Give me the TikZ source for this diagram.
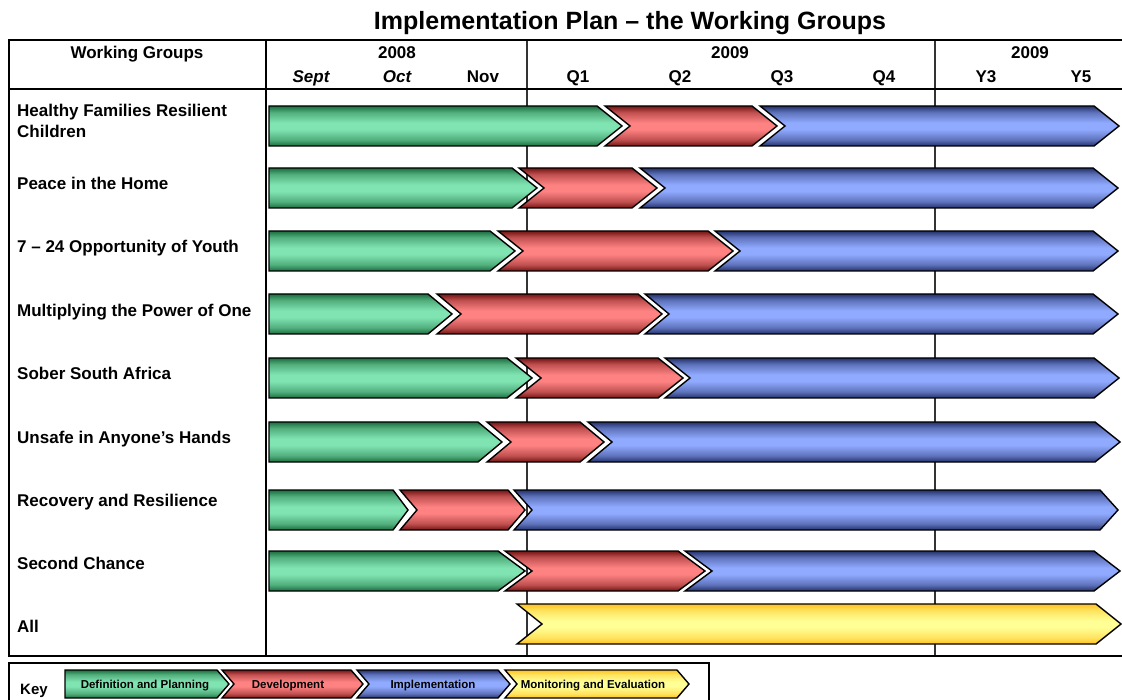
\documentclass[tikz,border=0pt]{standalone}
\usepackage{fontspec}
\setmainfont{Liberation Sans}
\usetikzlibrary{positioning}

\definecolor{dkgreen}{HTML}{1A6E3E}
\definecolor{ltgreen}{HTML}{80E4B2}
\definecolor{dkred}{HTML}{741414}
\definecolor{ltred}{HTML}{FF8282}
\definecolor{dkblue}{HTML}{23306A}
\definecolor{ltblue}{HTML}{90AAFF}
\definecolor{dkyellow}{HTML}{FFC21E}
\definecolor{ltyellow}{HTML}{FFFF96}

\pgfdeclareverticalshading{green_shade}{100bp}{color(0bp)=(dkgreen); color(25bp)=(dkgreen); color(33bp)=(dkgreen!45!ltgreen); color(46bp)=(ltgreen); color(54bp)=(ltgreen); color(67bp)=(dkgreen!45!ltgreen); color(75bp)=(dkgreen); color(100bp)=(dkgreen)}
\pgfdeclareverticalshading{red_shade}{100bp}{color(0bp)=(dkred); color(25bp)=(dkred); color(33bp)=(dkred!45!ltred); color(46bp)=(ltred); color(54bp)=(ltred); color(67bp)=(dkred!45!ltred); color(75bp)=(dkred); color(100bp)=(dkred)}
\pgfdeclareverticalshading{blue_shade}{100bp}{color(0bp)=(dkblue); color(25bp)=(dkblue); color(33bp)=(dkblue!45!ltblue); color(46bp)=(ltblue); color(54bp)=(ltblue); color(67bp)=(dkblue!45!ltblue); color(75bp)=(dkblue); color(100bp)=(dkblue)}
\pgfdeclareverticalshading{yellow_shade}{100bp}{color(0bp)=(dkyellow); color(25bp)=(dkyellow); color(33bp)=(dkyellow!45!ltyellow); color(46bp)=(ltyellow); color(54bp)=(ltyellow); color(67bp)=(dkyellow!45!ltyellow); color(75bp)=(dkyellow); color(100bp)=(dkyellow)}

% style, left, shoulder, top, depth, notch, height
\newcommand{\chevron}[7]{%
  \path[#1] (#2,#4) -- (#3,#4) -- (#3+#5,#4+#7/2) -- (#3,#4+#7) -- (#2,#4+#7) -- (#2+#6,#4+#7/2) -- cycle;}

\begin{document}
\begin{tikzpicture}[x=1pt, y=-1pt,
		bar_style/.style={draw=black, line width=1.4pt, line join=miter},
		green_bar/.style={bar_style, shading=green_shade},
		red_bar/.style={bar_style, shading=red_shade},
		blue_bar/.style={bar_style, shading=blue_shade},
		yellow_bar/.style={bar_style, shading=yellow_shade},
		head_style/.style={anchor=base, inner sep=0, font=\fontsize{17}{20}\selectfont\bfseries},
		month_style/.style={head_style, font=\fontsize{17}{20}\selectfont\bfseries\itshape},
		group_style/.style={anchor=base west, inner sep=0, align=left, font=\fontsize{17}{21}\selectfont\bfseries},
		key_style/.style={anchor=base, inner sep=0, font=\fontsize{11.5}{13}\selectfont\bfseries},
		outer_line/.style={line width=2pt},
		inner_line/.style={line width=1.4pt, draw=black!80}]

		\useasboundingbox (0,0) rectangle (1122,700);
		\clip (0,0) rectangle (1122,700);

		% title
		\node[anchor=base, inner sep=0, font=\fontsize{25}{28}\selectfont\bfseries] (title) at (630,30) {Implementation Plan -- the Working Groups};

		% table lines
		\draw[inner_line] (527,40) -- (527,656);
		\draw[inner_line] (935,40) -- (935,656);
		\draw[outer_line] (266,40) -- (266,656);
		\draw[outer_line] (9,89) -- (1122,89);
		\draw[outer_line] (1122,40) -- (9,40) -- (9,656) -- (1122,656);

		% header
		\node[head_style] (wg) at (137,59) {Working Groups};
		\node[head_style] (y2008) at (397,59) {2008};
		\node[month_style] (sept) at (311,83) {Sept};
		\node[month_style] (oct) at (397,83) {Oct};
		\node[head_style] (nov) at (483,83) {Nov};
		\node[head_style] (y2009a) at (730,59) {2009};
		\node[head_style] (q1) at (578,83) {Q1};
		\node[head_style] (q2) at (680,83) {Q2};
		\node[head_style] (q3) at (782,83) {Q3};
		\node[head_style] (q4) at (884,83) {Q4};
		\node[head_style] (y2009b) at (1030,59) {2009};
		\node[head_style] (y3) at (986,83) {Y3};
		\node[head_style] (y5) at (1081,83) {Y5};

		% working groups
		\node[group_style, anchor=north west] (g1) at (17,104) {Healthy Families Resilient\\Children};
		\node[group_style] (g2) at (17,190) {Peace in the Home};
		\node[group_style] (g3) at (17,253) {7 -- 24 Opportunity of Youth};
		\node[group_style] (g4) at (17,317) {Multiplying the Power of One};
		\node[group_style] (g5) at (17,380) {Sober South Africa};
		\node[group_style] (g6) at (17,443) {Unsafe in Anyone’s Hands};
		\node[group_style] (g7) at (17,506) {Recovery and Resilience};
		\node[group_style] (g8) at (17,569) {Second Chance};
		\node[group_style] (g9) at (17,632) {All};

		% bars
		\chevron{green_bar}{269}{597}{106}{25}{0}{40}
		\chevron{red_bar}{605}{752}{106}{25}{25}{40}
		\chevron{blue_bar}{760}{1094}{106}{25}{25}{40}

		\chevron{green_bar}{269}{512}{168}{25}{0}{40}
		\chevron{red_bar}{519}{632}{168}{25}{25}{40}
		\chevron{blue_bar}{640}{1093}{168}{25}{25}{40}

		\chevron{green_bar}{269}{490}{231}{25}{0}{40}
		\chevron{red_bar}{498}{708}{231}{25}{25}{40}
		\chevron{blue_bar}{715}{1093}{231}{25}{25}{40}

		\chevron{green_bar}{269}{428}{294}{24}{0}{40}
		\chevron{red_bar}{437}{638}{294}{24}{24}{40}
		\chevron{blue_bar}{645}{1093}{294}{25}{24}{40}

		\chevron{green_bar}{269}{507}{358}{25}{0}{40}
		\chevron{red_bar}{516}{658}{358}{25}{25}{40}
		\chevron{blue_bar}{665}{1094}{358}{25}{25}{40}

		\chevron{green_bar}{269}{478}{422}{24}{0}{40}
		\chevron{red_bar}{487}{580}{422}{24}{24}{40}
		\chevron{blue_bar}{588}{1095}{422}{25}{24}{40}

		\chevron{green_bar}{269}{393}{490}{15}{0}{40}
		\chevron{red_bar}{400}{508}{490}{17}{17}{40}
		\chevron{blue_bar}{514}{1100}{490}{18}{18}{40}

		\chevron{green_bar}{269}{498}{551}{27}{0}{40}
		\chevron{red_bar}{505}{678}{551}{27}{27}{40}
		\chevron{blue_bar}{685}{1094}{551}{26}{27}{40}

		\chevron{yellow_bar}{517}{1096}{604}{25}{25}{40}

		% key
		\draw[outer_line] (9,706) -- (9,663) -- (709,663) -- (709,706);
		\node[anchor=base west, inner sep=0, font=\fontsize{15}{17}\selectfont\bfseries] (key) at (20,694) {Key};
		\chevron{green_bar}{65}{217}{670}{12}{0}{28}
		\chevron{red_bar}{222}{351}{670}{12}{12}{28}
		\chevron{blue_bar}{357}{498}{670}{12}{12}{28}
		\chevron{yellow_bar}{505}{677}{670}{12}{12}{28}
		\node[key_style] (k1) at (145,688) {Definition and Planning};
		\node[key_style] (k2) at (288,688) {Development};
		\node[key_style] (k3) at (433,688) {Implementation};
		\node[key_style] (k4) at (593,688) {Monitoring and Evaluation};

\end{tikzpicture}
\end{document}
